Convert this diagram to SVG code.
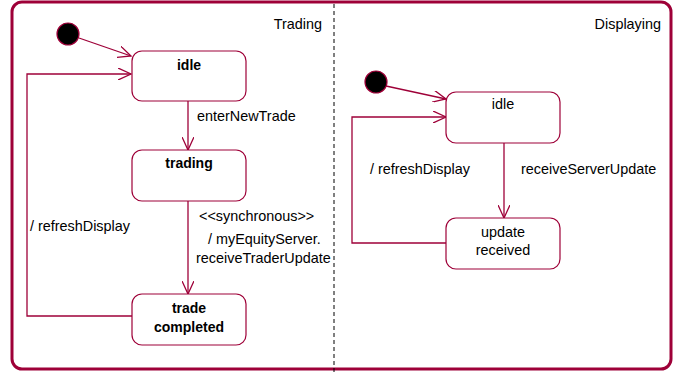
<svg xmlns="http://www.w3.org/2000/svg" width="678" height="372" viewBox="0 0 678 372">
<defs>
<style>
.frame{fill:none;stroke:#9e0038;stroke-width:3}
.state{fill:#fff;stroke:#9e0038;stroke-width:1.2}
.init{fill:#000;stroke:#9e0038;stroke-width:1.2}
.edge{fill:none;stroke:#9e0038;stroke-width:1.3}
.t{font-family:"Liberation Sans",Arial,sans-serif;font-size:14.4px;fill:#000}
.b{font-weight:bold;font-size:14px}
.m{text-anchor:middle}
</style>
<marker id="arr" viewBox="0 0 14 12" refX="13" refY="6" markerWidth="14" markerHeight="12" markerUnits="userSpaceOnUse" orient="auto">
<path d="M0,0 L13,6 L0,12" fill="none" stroke="#9e0038" stroke-width="1.3"/>
</marker>
</defs>
<rect class="frame" x="12" y="2" width="659" height="367" rx="10"/>
<line x1="334" y1="4" x2="334" y2="372" stroke="#000" stroke-width="1" stroke-dasharray="4,3"/>
<text class="t" x="322" y="29" text-anchor="end">Trading</text>
<text class="t" x="661" y="29" text-anchor="end">Displaying</text>

<g id="connectors">
<line class="edge" x1="79" y1="38" x2="131" y2="56" marker-end="url(#arr)"/>
<polyline class="edge" points="132,316 27,316 27,74 131,74" marker-end="url(#arr)"/>
<line class="edge" x1="188" y1="101" x2="188" y2="150" marker-end="url(#arr)"/>
<line class="edge" x1="188" y1="201" x2="188" y2="294" marker-end="url(#arr)"/>
<line class="edge" x1="386" y1="86" x2="446" y2="99" marker-end="url(#arr)"/>
<polyline class="edge" points="446,243 352,243 352,117 446,117" marker-end="url(#arr)"/>
<line class="edge" x1="504" y1="143" x2="504" y2="218" marker-end="url(#arr)"/>
<text class="t" x="197" y="121">enterNewTrade</text>
<text class="t" x="199" y="221">&lt;&lt;synchronous&gt;&gt;</text>
<text class="t" x="208" y="244">/ myEquityServer.</text>
<text class="t" x="196" y="263">receiveTraderUpdate</text>
<text class="t" x="30" y="231">/ refreshDisplay</text>
<text class="t" x="370" y="174">/ refreshDisplay</text>
<text class="t" x="521" y="174">receiveServerUpdate</text>
</g>

<g id="trading-initial"><circle class="init" cx="68" cy="34" r="11"/></g>
<g id="trading-idle">
<rect class="state" x="132" y="51" width="114" height="50" rx="10"/>
<text class="t b m" x="189" y="70">idle</text>
</g>
<g id="trading-trading">
<rect class="state" x="132" y="150" width="114" height="51" rx="10"/>
<text class="t b m" x="189" y="168">trading</text>
</g>
<g id="trading-completed">
<rect class="state" x="132" y="294" width="114" height="51" rx="10"/>
<text class="t b m" x="189" y="313">trade</text>
<text class="t b m" x="189" y="332">completed</text>
</g>

<g id="display-initial"><circle class="init" cx="376" cy="82" r="11"/></g>
<g id="display-idle">
<rect class="state" x="446" y="92" width="114" height="51" rx="10"/>
<text class="t m" x="503" y="109">idle</text>
</g>
<g id="display-updated">
<rect class="state" x="446" y="218" width="114" height="51" rx="10"/>
<text class="t m" x="503" y="237">update</text>
<text class="t m" x="503" y="255">received</text>
</g>
</svg>
